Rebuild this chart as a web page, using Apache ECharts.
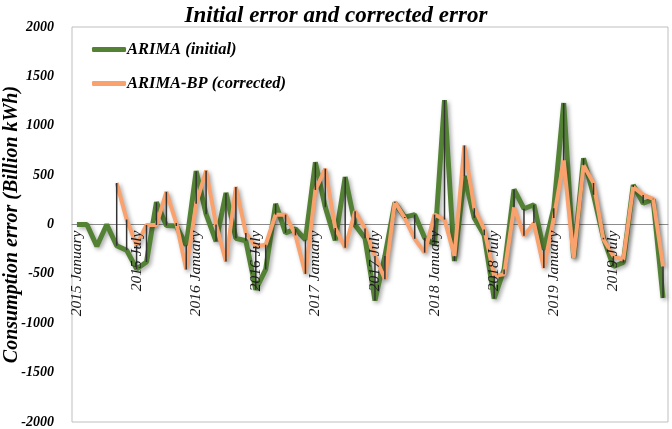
<!DOCTYPE html>
<html>
<head>
<meta charset="utf-8">
<script src="https://cdn.jsdelivr.net/npm/echarts@6/dist/echarts.min.js"></script>
<style>
html,body{margin:0;padding:0;background:#fff;}
#chart{width:672px;height:429px;}
</style>
</head>
<body>
<div id="chart"></div>
<script>
var years = [2015, 2016, 2017, 2018, 2019];
var monthNames = ['January','February','March','April','May','June','July','August','September','October','November','December'];
var yTicks = [-2000, -1500, -1000, -500, 0, 500, 1000, 1500, 2000];

var initialError = [0, 0, -220, 0, -215, -260, -450, -380, 225, -10, -15, -210,
  540, 105, -170, 320, -140, -165, -660, -455, 210, -85, -45, -155,
  630, 175, -160, 480, -5, -140, -770, -320, 220, 75, 100, -135,
  -200, 1260, -370, 490, 65, -110, -750, -455, 355, 160, 200, -255,
  165, 1230, -340, 670, 300, -135, -425, -385, 400, 215, 255, -745];

var correctedError = [null, null, null, null, 420, 50, -210, -5, -5, 330, 15, -455,
  210, 545, 0, -375, 380, -85, -220, -205, 100, 100, -110, -500,
  350, 565, -35, -235, 135, -40, -320, -555, 230, 65, -145, -285,
  100, 50, -320, 800, 165, -50, -520, -505, 175, -115, 15, -440,
  65, 650, -340, 600, 420, -150, -320, -355, 380, 300, 260, -425];

var categories = [];
years.forEach(function (y) { monthNames.forEach(function (m) { categories.push(y + ' ' + m); }); });

var hiLo = categories.map(function (c, i) { return [i, initialError[i], correctedError[i]]; });

var serif = '"Liberation Serif", "Times New Roman", serif';
var lineShadow = {shadowColor: 'rgba(0,0,0,0.35)', shadowBlur: 4, shadowOffsetX: 2, shadowOffsetY: 2};

var gridTop = 27, gridBottom = 7, chartH = 429;
// move the category axis up to the value-axis zero
var zeroOffset = -((chartH - gridTop - gridBottom) * (0 - yTicks[0]) / (yTicks[yTicks.length - 1] - yTicks[0]));

var chart = echarts.init(document.getElementById('chart'));
chart.setOption({
  animation: false,
  backgroundColor: '#fff',
  title: {
    text: 'Initial error and corrected error',
    left: 'center', top: 0,
    textStyle: {fontFamily: serif, fontSize: 23, fontWeight: 'bold', fontStyle: 'italic', color: '#000'}
  },
  legend: {
    data: ['ARIMA (initial)', 'ARIMA-BP (corrected)'],
    orient: 'vertical', left: 92, top: 41, padding: 0,
    itemWidth: 34, itemHeight: 5, itemGap: 17,
    icon: 'roundRect',
    textStyle: {fontFamily: serif, fontSize: 16.5, fontWeight: 'bold', fontStyle: 'italic', color: '#000', lineHeight: 16, padding: [0, 0, 0, -4]}
  },
  grid: {left: 72, right: 4, top: gridTop, bottom: gridBottom, show: true, borderColor: '#bfbfbf', borderWidth: 1,
    containLabel: false, outerBoundsMode: 'none'},
  xAxis: [{
    type: 'category', data: categories, boundaryGap: true, position: 'bottom', offset: zeroOffset,
    axisLine: {show: true, onZero: false, lineStyle: {color: '#8c8c8c', width: 1}},
    axisTick: {show: false}, axisLabel: {show: false}, splitLine: {show: false}, z: 0
  }, {
    type: 'category', data: categories, boundaryGap: true, position: 'bottom', offset: zeroOffset,
    axisLine: {show: false, onZero: false},
    axisTick: {show: false},
    axisLabel: {
      interval: 5, rotate: 90, margin: 6,
      fontFamily: serif, fontSize: 15.5, fontStyle: 'italic', color: '#1a1a1a'
    },
    splitLine: {show: false}, z: 10
  }],
  yAxis: {
    type: 'value', min: yTicks[0], max: yTicks[yTicks.length - 1], interval: 500,
    name: 'Consumption error (Billion kWh)', nameLocation: 'middle', nameGap: 50, nameMoveOverlap: false,
    nameTextStyle: {fontFamily: serif, fontSize: 20, fontWeight: 'bold', fontStyle: 'italic', color: '#000'},
    axisLine: {show: false, onZero: false}, axisTick: {show: false}, splitLine: {show: false},
    axisLabel: {margin: 18, formatter: function (v) { return String(v); },
      fontFamily: serif, fontSize: 14, fontWeight: 'bold', fontStyle: 'italic', color: '#000'}
  },
  series: [
    {
      name: 'ARIMA (initial)', type: 'line', data: initialError, xAxisIndex: 0,
      symbol: 'none', z: 2,
      lineStyle: Object.assign({color: '#548235', width: 5}, lineShadow),
      itemStyle: {color: '#548235'}
    },
    {
      name: 'ARIMA-BP (corrected)', type: 'line', data: correctedError, xAxisIndex: 0,
      symbol: 'none', z: 3, connectNulls: false,
      lineStyle: Object.assign({color: '#F9A26D', width: 4}, lineShadow),
      itemStyle: {color: '#F9A26D'}
    },
    {
      name: 'hilo', type: 'custom', data: hiLo, z: 4, silent: true, xAxisIndex: 0,
      encode: {x: 0, y: [1, 2]},
      renderItem: function (params, api) {
        var a = api.value(1), b = api.value(2);
        if (a == null || b == null || isNaN(a) || isNaN(b)) return null;
        var p1 = api.coord([api.value(0), a]);
        var p2 = api.coord([api.value(0), b]);
        return {type: 'line', shape: {x1: p1[0], y1: p1[1], x2: p2[0], y2: p2[1]},
          style: {stroke: '#333', lineWidth: 1.5}};
      }
    }
  ]
});
</script>
</body>
</html>
